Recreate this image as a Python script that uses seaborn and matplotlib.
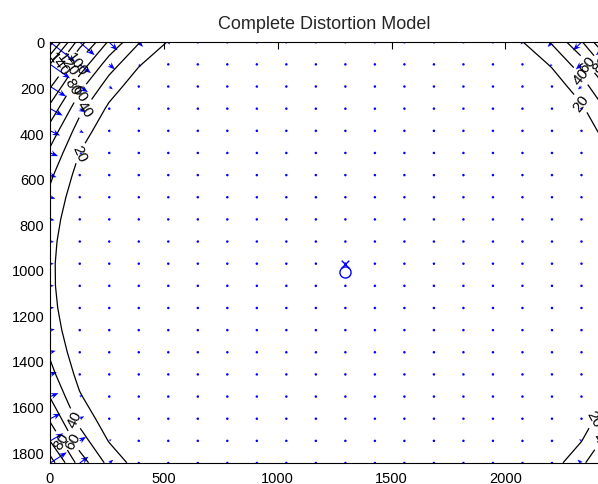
import numpy as np
import matplotlib
matplotlib.use('Agg')
import matplotlib.pyplot as plt
import seaborn as sns

# camera / distortion parameters
nx, ny = 2592, 1944
fc = [2000.0, 2000.0]
cc = [1295.0, 1010.0]
kc = [0.17, -0.478, 0.0, 0.0, -0.0787]  # k1 k2 p1 p2 k3
nstep = 20

levels = [20, 40, 60, 80, 100, 120, 140, 160, 180, 200]
x_ticks = [0, 500, 1000, 1500, 2000]
y_ticks = [0, 200, 400, 600, 800, 1000, 1200, 1400, 1600, 1800]
title = 'Complete Distortion Model'


def apply_distortion(xn, yn, k):
    r2 = xn**2 + yn**2
    cdist = 1 + k[0]*r2 + k[1]*r2**2 + k[4]*r2**3
    xd = xn*cdist + 2*k[2]*xn*yn + k[3]*(r2 + 2*xn**2)
    yd = yn*cdist + k[2]*(r2 + 2*yn**2) + 2*k[3]*xn*yn
    return xd, yd


mx, my = np.meshgrid(np.arange(0, nx-1, nx/nstep), np.arange(0, ny-1, ny/nstep))
xd, yd = apply_distortion((mx-cc[0])/fc[0], (my-cc[1])/fc[1], kc)
dx = fc[0]*xd + cc[0] - mx
dy = fc[1]*yd + cc[1] - my
dr = np.sqrt(dx**2 + dy**2)

# matlab style quiver autoscale
n = np.sqrt(mx.size)
delx = (mx.max() - mx.min())/n
dely = (my.max() - my.min())/n
maxlen = np.sqrt((dx**2 + dy**2)/(delx**2 + dely**2)).max()
qscale = maxlen/0.9

sns.set_style('white')
plt.rcParams['font.family'] = ['Liberation Sans', 'DejaVu Sans']

fig = plt.figure(figsize=(5.98, 4.85), dpi=100)
ax = fig.add_axes([50/598, 21/485, 561/598, 421/485])

ax.quiver(mx+1, my+1, dx, dy, color='blue', angles='xy', scale_units='xy',
          scale=qscale, units='dots', width=1.1, headwidth=5.5, headlength=7,
          headaxislength=5, minlength=2.5)
cs = ax.contour(mx, my, dr, levels=levels, colors='k', linewidths=0.9)
ax.clabel(cs, fmt='%d', fontsize=11, inline=True, inline_spacing=2)

ax.plot(cc[0]+1, cc[1]+1, 'o', mfc='none', mec='blue', ms=8, mew=1)
sns.scatterplot(x=[(nx-1)/2+1], y=[(ny-1)/2+1], marker='x', color='blue',
                s=30, linewidth=1, legend=False, ax=ax)

ax.set_xlim(0, mx.max()+1)
ax.set_ylim(my.max()+1, 0)
ax.set_xticks(x_ticks)
ax.set_yticks(y_ticks)
ax.tick_params(direction='in', length=5, top=True, right=True, labelsize=10.5,
               colors='black', width=0.8)
ax.tick_params(axis='y', pad=4)
ax.tick_params(axis='x', pad=6)
for s in ax.spines.values():
    s.set_color('black')
    s.set_linewidth(0.8)
ax.set_title(title, fontsize=13, x=0.488, pad=10)

fig.savefig('out.png', dpi=100)
